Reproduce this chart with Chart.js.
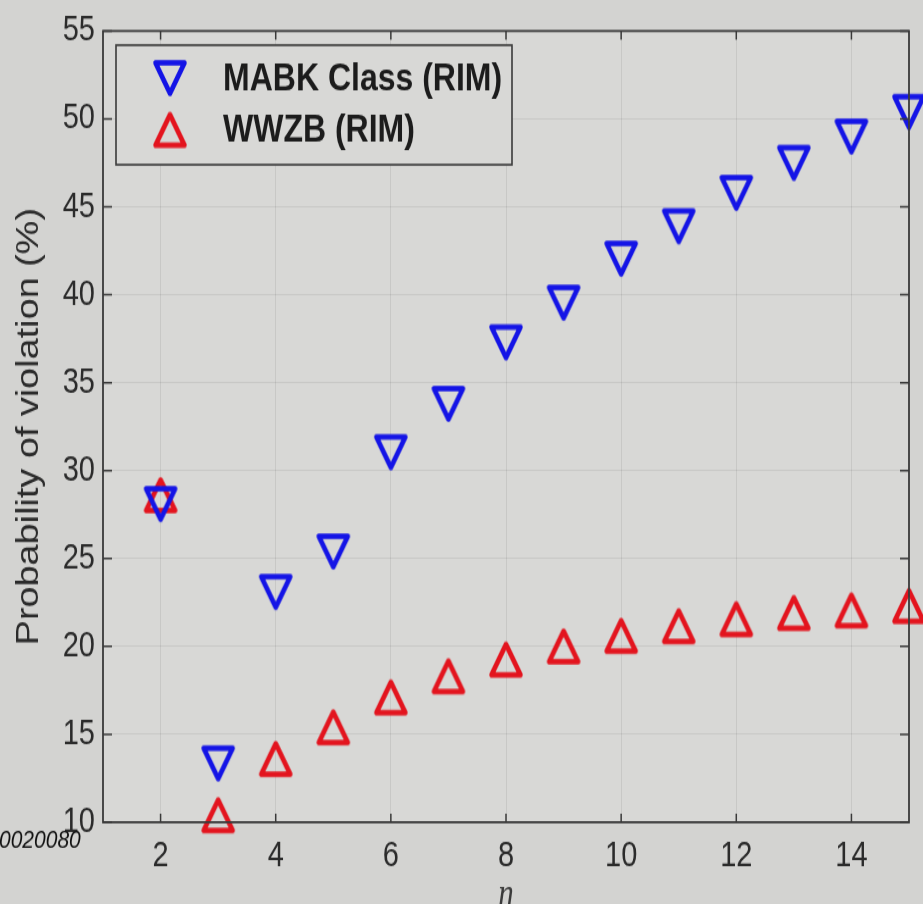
<!DOCTYPE html>
<html>
<head>
<meta charset="utf-8">
<script src="https://cdn.jsdelivr.net/npm/chart.js@4.4.1/dist/chart.umd.min.js"></script>
<style>
  html { margin: 0; padding: 0; background: #d3d3d1; overflow: hidden; }
  body { margin: 0; padding: 0; background: #d3d3d1; width: 923px; height: 904px; }
  #wrap { width: 923px; height: 741px; transform: scaleY(1.21997); transform-origin: 0 0; }
  canvas { display: block; }
</style>
</head>
<body>
<div id="wrap"><canvas id="c" width="923" height="741"></canvas></div>
<script>
// ---- data ----
const nValues = [2, 3, 4, 5, 6, 7, 8, 9, 10, 11, 12, 13, 14, 15];
const mabkValues = [28.1, 13.35, 23.1, 25.4, 31.05, 33.8, 37.3, 39.55, 42.05, 43.9, 45.8, 47.5, 49.0, 50.4];
const wwzbValues = [28.6, 10.4, 13.6, 15.4, 17.1, 18.3, 19.25, 20.0, 20.6, 21.15, 21.55, 21.9, 22.05, 22.3];
const xTickValues = [2, 4, 6, 8, 10, 12, 14];
const yTickValues = [10, 15, 20, 25, 30, 35, 40, 45, 50, 55];
const seriesLabels = ['MABK Class (RIM)', 'WWZB (RIM)'];
const xTitle = 'n';
const yTitle = 'Probability of violation (%)';
const cornerNote = '0020080';

// ---- marker images ----
function makeTriangle(color, down) {
  const c = document.createElement('canvas');
  c.width = 40; c.height = 36;
  const g = c.getContext('2d');
  const cx = 20, cy = 18, hw = 14.5, th = 25;
  g.strokeStyle = color;
  g.lineWidth = 4.5;
  g.lineJoin = 'round';
  g.beginPath();
  if (down) {
    g.moveTo(cx - hw, cy - th / 2);
    g.lineTo(cx + hw, cy - th / 2);
    g.lineTo(cx, cy + th / 2);
  } else {
    g.moveTo(cx - hw, cy + th / 2);
    g.lineTo(cx + hw, cy + th / 2);
    g.lineTo(cx, cy - th / 2);
  }
  g.closePath();
  g.stroke();
  return c;
}
const blue = '#1414e6';
const red = '#e3141e';
const downTri = makeTriangle(blue, true);
const upTri = makeTriangle(red, false);

const textColor = '#2b2b2b';

const framePlugin = {
  id: 'frame',
  beforeDraw(chart) {
    const {ctx, chartArea: a} = chart;
    ctx.save();
    ctx.fillStyle = '#d8d8d6';
    ctx.fillRect(a.left, a.top, a.right - a.left, a.bottom - a.top);
    ctx.restore();
  },
  afterDraw(chart) {
    const {ctx, chartArea: a, scales} = chart;
    ctx.save();
    ctx.strokeStyle = '#3a3a3a';
    ctx.lineWidth = 1.8;
    ctx.strokeRect(a.left, a.top, a.right - a.left, a.bottom - a.top);
    ctx.lineWidth = 1.5;
    ctx.beginPath();
    xTickValues.forEach(v => {
      const px = scales.x.getPixelForValue(v);
      ctx.moveTo(px, a.bottom); ctx.lineTo(px, a.bottom - 7);
      ctx.moveTo(px, a.top); ctx.lineTo(px, a.top + 7);
    });
    yTickValues.forEach(v => {
      const py = scales.y.getPixelForValue(v);
      ctx.moveTo(a.left, py); ctx.lineTo(a.left + 9, py);
      ctx.moveTo(a.right, py); ctx.lineTo(a.right - 9, py);
    });
    ctx.stroke();

    // legend
    const L = {left: 116, right: 512, top: 37, bottom: 135};
    ctx.fillStyle = '#d8d8d6';
    ctx.fillRect(L.left, L.top, L.right - L.left, L.bottom - L.top);
    ctx.strokeStyle = '#3a3a3a';
    ctx.lineWidth = 1.6;
    ctx.strokeRect(L.left, L.top, L.right - L.left, L.bottom - L.top);
    const rows = [64, 106.5];
    chart.data.datasets.forEach((ds, i) => {
      const img = ds.pointStyle;
      ctx.drawImage(img, 170 - img.width / 2, rows[i] - img.height / 2);
      ctx.fillStyle = '#1c1c1c';
      ctx.font = 'bold 32px "Liberation Sans", Arial, sans-serif';
      ctx.textBaseline = 'middle';
      ctx.textAlign = 'left';
      ctx.fillText(ds.label, 223, rows[i] + 1);
    });

    // corner note
    ctx.fillStyle = '#111';
    ctx.font = 'italic 21px "Liberation Sans", Arial, sans-serif';
    ctx.textBaseline = 'middle';
    ctx.fillText(cornerNote, -1, 689);
    ctx.restore();
  }
};

new Chart(document.getElementById('c'), {
  type: 'scatter',
  data: {
    datasets: [
      {
        label: seriesLabels[0],
        data: nValues.map((n, i) => ({x: n, y: mabkValues[i]})),
        pointStyle: downTri,
        borderColor: blue,
        backgroundColor: blue,
        clip: false
      },
      {
        label: seriesLabels[1],
        data: nValues.map((n, i) => ({x: n, y: wwzbValues[i]})),
        pointStyle: upTri,
        borderColor: red,
        backgroundColor: red,
        clip: false
      }
    ]
  },
  options: {
    responsive: false,
    animation: false,
    events: [],
    layout: {padding: {top: 22, right: 14, bottom: 0, left: 0}},
    plugins: {legend: {display: false}, tooltip: {enabled: false}},
    scales: {
      x: {
        type: 'linear',
        min: 1, max: 15,
        afterBuildTicks: s => { s.ticks = xTickValues.map(v => ({value: v})); },
        afterFit: s => { s.height = 67; },
        grid: {color: 'rgba(0,0,0,0.07)', drawTicks: false},
        border: {display: false},
        ticks: {
          color: textColor, padding: 11,
          font: {family: '"Liberation Sans", Arial, sans-serif', size: 29}
        },
        title: {
          display: true, text: xTitle, color: '#3a3a3a',
          font: {family: '"Liberation Serif", "DejaVu Serif", serif', size: 31, style: 'italic', lineHeight: 1},
          padding: {top: 0, bottom: -8}
        }
      },
      y: {
        type: 'linear',
        min: 10, max: 55,
        afterBuildTicks: s => { s.ticks = yTickValues.map(v => ({value: v})); },
        afterFit: s => { s.width = 103; },
        grid: {color: 'rgba(0,0,0,0.07)', drawTicks: false},
        border: {display: false},
        ticks: {
          color: textColor, padding: 8,
          font: {family: '"Liberation Sans", Arial, sans-serif', size: 29}
        },
        title: {
          display: true, text: yTitle, color: '#2b2b2b',
          font: {family: '"Liberation Sans", Arial, sans-serif', size: 31, lineHeight: 1},
          padding: {top: 14, bottom: 0}
        }
      }
    }
  },
  plugins: [framePlugin]
});
</script>
</body>
</html>
